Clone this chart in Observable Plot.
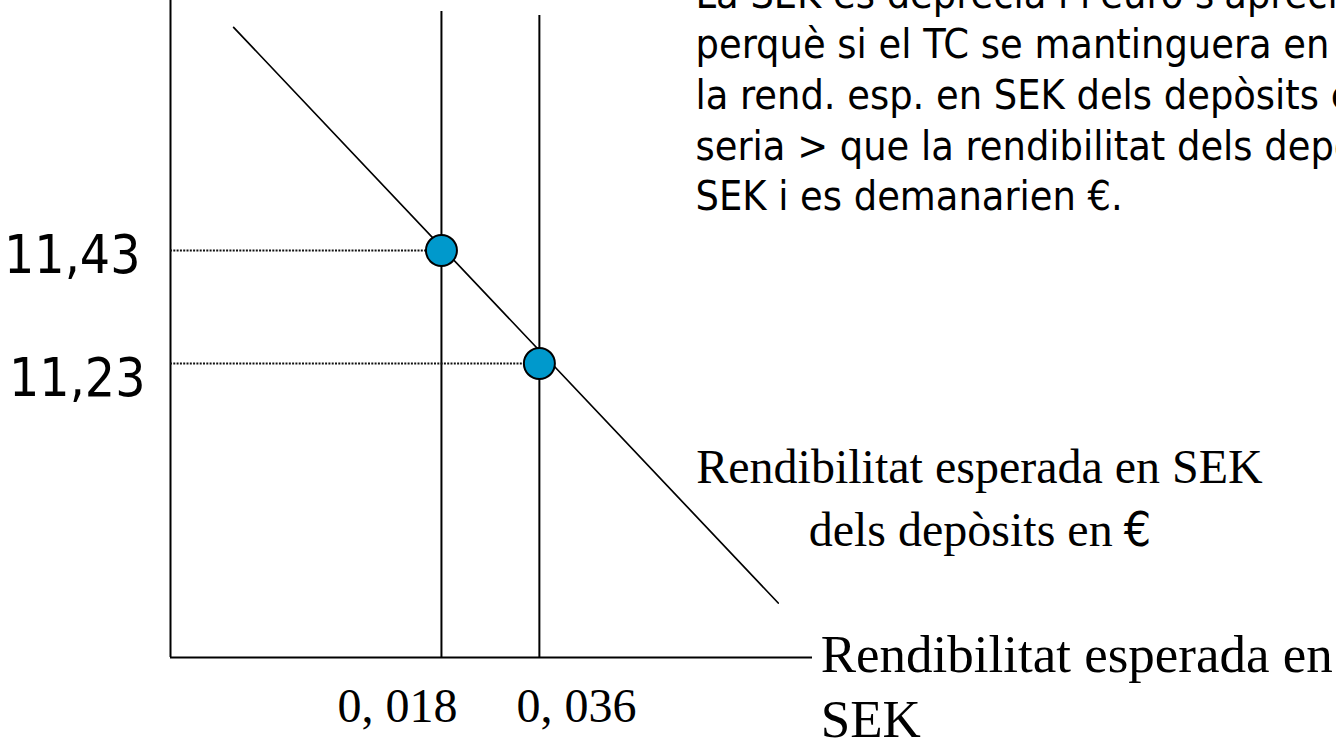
<!DOCTYPE html>
<html>
<head>
<meta charset="utf-8">
<script src="https://cdn.jsdelivr.net/npm/d3@7"></script>
<script src="https://cdn.jsdelivr.net/npm/@observablehq/plot@0.6"></script>
<style>
  html, body { margin: 0; padding: 0; background: #fff; overflow: hidden; }
  #chart svg { display: block; overflow: hidden; }
</style>
</head>
<body>
<div id="chart"></div>
<script>
// ---- data ----
// equilibrium points: expected return in SEK (x) and SEK/€ exchange rate (y)
const returns = [0.018, 0.036];
const rates = [11.43, 11.23];
const xTickLabels = ["0, 018", "0, 036"];
const yTickLabels = ["11,43", "11,23"];
// downward-sloping schedule: expected return in SEK of € deposits (two end points)
const curveReturn = [-0.0202, 0.0799];
const curveRate = [11.825, 10.806];
// schematic axis extents (data units)
const xExtent = [-0.0318, 0.0862];
const yExtent = [10.7096, 11.8725];
// tops of the two vertical return lines
const verticalTops = [11.853, 11.846];
// annotation texts
const noteLines = [
  "La SEK es deprecia i l'euro s'aprecia",
  "perquè si el TC se mantinguera en",
  "la rend. esp. en SEK dels depòsits en €",
  "seria > que la rendibilitat dels depòsits en",
  "SEK i es demanarien €."
];
const curveLabel = ["Rendibilitat esperada en SEK", "dels depòsits en", "€"];
const axisLabel = ["Rendibilitat esperada en", "SEK"];
// annotation anchors (data units)
const noteAt = {x: 0.0647, y: 11.5008};
const curveLabelAt = {x: 0.1169, y1: 11.0176, y2: 10.9078, xSplit: 0.1421};
const axisLabelAt = {x: 0.0877, y: 10.568};
const xTickLabelY = 10.5963;

const SANS = "'DejaVu Sans Condensed', 'DejaVu Sans', sans-serif";
const SERIF = "'Liberation Serif', 'DejaVu Serif', serif";

const points = returns.map((r, i) => ({r, rate: rates[i], top: verticalTops[i]}));
const curve = curveReturn.map((r, i) => ({r, rate: curveRate[i]}));

const chart = Plot.plot({
  width: 1336,
  height: 739,
  marginLeft: 170,
  marginRight: 524,
  marginTop: 0,
  marginBottom: 82,
  x: {domain: xExtent, axis: null},
  y: {domain: yExtent, axis: null},
  style: {background: "#fff", color: "#000", overflow: "hidden"},
  marks: [
    // axes lines
    Plot.ruleX([xExtent[0]], {stroke: "#000", strokeWidth: 2}),
    Plot.ruleY([yExtent[0]], {stroke: "#000", strokeWidth: 2}),
    // vertical return lines
    Plot.ruleX(points, {x: "r", y1: yExtent[0], y2: "top", stroke: "#000", strokeWidth: 2}),
    // dotted guides to the y axis
    Plot.ruleY(points, {y: "rate", x1: xExtent[0], x2: "r", stroke: "#111", strokeWidth: 1.8, strokeDasharray: "2,1.3"}),
    // downward sloping schedule
    Plot.line(curve, {x: "r", y: "rate", stroke: "#000", strokeWidth: 1.7}),
    // equilibrium points
    Plot.dot(points, {x: "r", y: "rate", r: 15.5, fill: "#0099CC", stroke: "#000", strokeWidth: 2}),
    // y tick labels
    Plot.text([points[0]], {x: xExtent[0], y: "rate", text: () => yTickLabels[0], textAnchor: "end", lineAnchor: "bottom", dx: -30, dy: 23, fontSize: 53, fontFamily: SANS, fill: "#000"}),
    Plot.text([points[1]], {x: xExtent[0], y: "rate", text: () => yTickLabels[1], textAnchor: "end", lineAnchor: "bottom", dx: -25, dy: 33, fontSize: 53, fontFamily: SANS, fill: "#000"}),
    // x tick labels
    Plot.text([points[0]], {x: "r", y: xTickLabelY, text: () => xTickLabels[0], textAnchor: "end", lineAnchor: "bottom", dx: 16, fontSize: 48, fontFamily: SERIF, fill: "#000"}),
    Plot.text([points[1]], {x: "r", y: xTickLabelY, text: () => xTickLabels[1], textAnchor: "start", lineAnchor: "bottom", dx: -23, fontSize: 48, fontFamily: SERIF, fill: "#000"}),
    // note in the top right
    Plot.text([noteLines.join("\n")], {x: noteAt.x, y: noteAt.y, text: d => d, textAnchor: "start", lineAnchor: "bottom", lineHeight: 1.237, fontSize: 41, fontFamily: SANS, fill: "#000"}),
    // curve label
    Plot.text([curveLabel[0]], {x: curveLabelAt.x, y: curveLabelAt.y1, text: d => d, textAnchor: "middle", lineAnchor: "bottom", fontSize: 48, fontFamily: SERIF, fill: "#000"}),
    Plot.text([curveLabel[1]], {x: curveLabelAt.xSplit, y: curveLabelAt.y2, text: d => d, textAnchor: "end", lineAnchor: "bottom", dx: -4, fontSize: 48, fontFamily: SERIF, fill: "#000"}),
    Plot.text([curveLabel[2]], {x: curveLabelAt.xSplit, y: curveLabelAt.y2, text: d => d, textAnchor: "start", lineAnchor: "bottom", dx: 7, fontSize: 48, fontFamily: SANS, fill: "#000"}),
    // x axis label
    Plot.text([axisLabel.join("\n")], {x: axisLabelAt.x, y: axisLabelAt.y, text: d => d, textAnchor: "start", lineAnchor: "bottom", lineHeight: 1.23, fontSize: 53, fontFamily: SERIF, fill: "#000"})
  ]
});
document.getElementById("chart").appendChild(chart);
</script>
</body>
</html>
